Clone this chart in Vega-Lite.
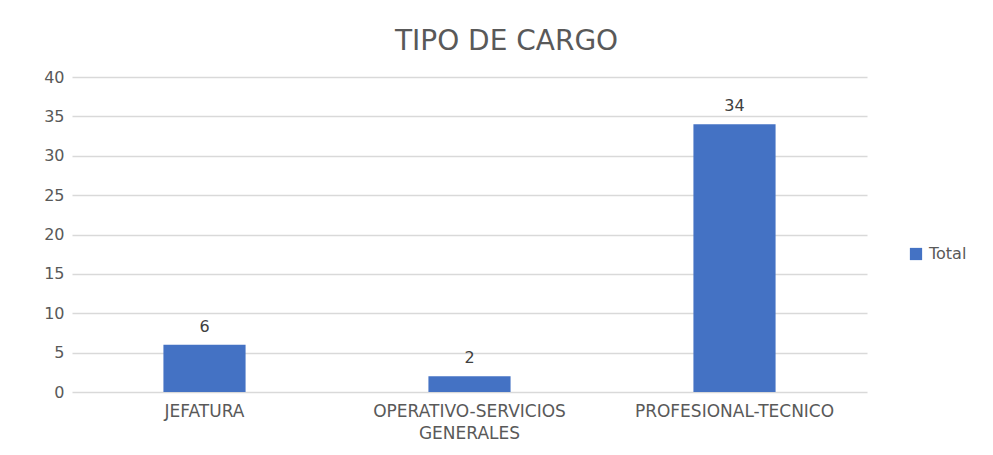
{
  "$schema": "https://vega.github.io/schema/vega-lite/v6.json",
  "width": 795,
  "height": 315,
  "autosize": {"type": "none"},
  "padding": {"left": 72, "top": 77, "right": 126, "bottom": 63},
  "background": "white",
  "title": {
    "text": "TIPO DE CARGO",
    "font": "DejaVu Sans",
    "fontSize": 28,
    "fontWeight": "normal",
    "color": "#595959",
    "anchor": "middle",
    "offset": 13,
    "dx": 37
  },
  "data": {
    "values": [
      {"cargo": "JEFATURA", "serie": "Total", "total": 6},
      {"cargo": "OPERATIVO-SERVICIOS GENERALES", "serie": "Total", "total": 2},
      {"cargo": "PROFESIONAL-TECNICO", "serie": "Total", "total": 34}
    ]
  },
  "encoding": {
    "x": {
      "field": "cargo",
      "type": "nominal",
      "sort": null,
      "scale": {"paddingInner": 0.69, "paddingOuter": 0.345},
      "axis": {
        "title": null,
        "labelAngle": 0,
        "labelExpr": "split(datum.label, ' ')",
        "labelFont": "DejaVu Sans",
        "labelFontSize": 17,
        "labelColor": "#595959",
        "labelPadding": 11,
        "labelLineHeight": 22,
        "labelLimit": 400,
        "labelOverlap": false,
        "domain": false,
        "ticks": false
      }
    },
    "y": {
      "field": "total",
      "type": "quantitative",
      "scale": {"domain": [0, 40]},
      "axis": {
        "title": null,
        "values": [0, 5, 10, 15, 20, 25, 30, 35, 40],
        "labelFont": "DejaVu Sans",
        "labelFontSize": 16,
        "labelColor": "#595959",
        "labelPadding": 8,
        "domain": false,
        "ticks": false,
        "gridColor": "#d9d9d9",
        "gridWidth": 1.3
      }
    }
  },
  "layer": [
    {
      "mark": {"type": "bar", "color": "#4472C4"},
      "encoding": {
        "color": {
          "field": "serie",
          "type": "nominal",
          "scale": {"range": ["#4472C4"]},
          "legend": {
            "title": null,
            "orient": "none",
            "legendX": 836,
            "legendY": 169,
            "symbolType": "square",
            "symbolSize": 150,
            "symbolStrokeWidth": 0,
            "labelFont": "DejaVu Sans",
            "labelFontSize": 16,
            "labelColor": "#595959",
            "labelOffset": 5
          }
        }
      }
    },
    {
      "mark": {"type": "text", "dy": -18, "font": "DejaVu Sans", "fontSize": 16, "color": "#404040"},
      "encoding": {"text": {"field": "total", "type": "quantitative"}}
    }
  ],
  "config": {"view": {"stroke": null}}
}
